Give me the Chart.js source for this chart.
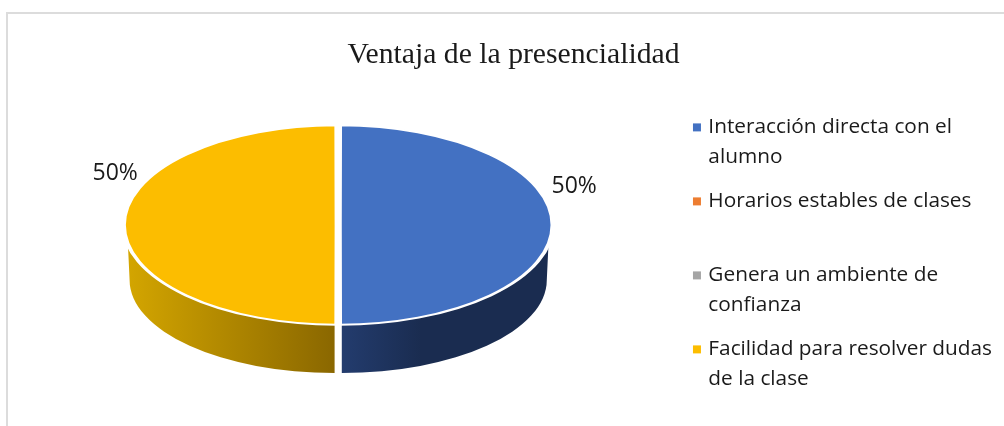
<!DOCTYPE html>
<html lang="es">
<head>
<meta charset="utf-8">
<title>Ventaja de la presencialidad</title>
<script src="https://cdn.jsdelivr.net/npm/chart.js@4"></script>
<style>
html,body{margin:0;padding:0;background:#fff;overflow:hidden}
#wrap{position:relative;width:1004px;height:426px}
#frame{position:absolute;left:6px;top:12px;right:0;bottom:0;border-left:2px solid #dcdcdc;border-top:2px solid #dcdcdc}
canvas{position:absolute;left:0;top:0}
</style>
</head>
<body>
<div id="wrap"><div id="frame"></div><canvas id="c" width="1004" height="426"></canvas></div>
<script>
const chartTitle = 'Ventaja de la presencialidad';
const categories = [
  ['Interacción directa con el', 'alumno'],
  ['Horarios estables de clases', ''],
  ['Genera un ambiente de', 'confianza'],
  ['Facilidad para resolver dudas', 'de la clase']
];
const values = [50, 0, 0, 50];
const colors = ['#4371C2', '#ED7D31', '#A5A5A5', '#FCBD00'];

// Projection of the flat pie onto the tilted top face and its rim
const FACE = {cx: 338.2, cy: 225, rx: 211.3, ry: 99};
const RIM_TOP = {rx: 209, ry: 98.5};
const BASE = {cy: 280, rx: 205, ry: 93};
const RIM_GAP = 3.6;
const SIDE_START = 0.14;
const RIM = [
  {a0: SIDE_START, a1: Math.PI / 2, stops: [[0, '#233C6E'], [0.38, '#1A2C50'], [1, '#1A2C50']]},
  null, null,
  {a0: Math.PI / 2, a1: Math.PI - SIDE_START, stops: [[0, '#D4A600'], [1, '#8A6700']]}
];
const LABEL_POS = [{dx: 236, dy: -40}, null, null, {dx: -223, dy: -53}];

function mapping(chart) {
  const arc = chart.getDatasetMeta(0).data[0];
  const p = arc.getProps(['x', 'y', 'outerRadius'], true);
  return {x: p.x, y: p.y, sx: FACE.rx / p.outerRadius, sy: FACE.ry / p.outerRadius};
}

const pie3d = {
  id: 'pie3d',
  beforeDatasetsDraw(chart) {
    const ctx = chart.ctx, m = mapping(chart);
    chart.getDatasetMeta(0).data.forEach((arc, i) => {
      const rim = RIM[i];
      if (!rim || !values[i]) return;
      const p = arc.getProps(['startAngle', 'endAngle'], true);
      const right = Math.cos((p.startAngle + p.endAngle) / 2) > 0;
      const cx = FACE.cx + (right ? RIM_GAP : -RIM_GAP);
      const x0 = right ? cx : cx - RIM_TOP.rx, x1 = right ? cx + RIM_TOP.rx : cx;
      const g = ctx.createLinearGradient(x0, 0, x1, 0);
      rim.stops.forEach(s => g.addColorStop(s[0], s[1]));
      ctx.save();
      ctx.fillStyle = g;
      ctx.beginPath();
      ctx.ellipse(cx, FACE.cy, RIM_TOP.rx, RIM_TOP.ry, 0, rim.a0, rim.a1);
      if (right) {
        ctx.ellipse(cx, BASE.cy, BASE.rx, BASE.ry, 0, rim.a1, 0, true);
      } else {
        ctx.ellipse(cx, BASE.cy, BASE.rx, BASE.ry, 0, Math.PI, rim.a0, true);
      }
      ctx.closePath();
      ctx.fill();
      ctx.restore();
    });
    ctx.save();
    ctx.translate(FACE.cx, FACE.cy);
    ctx.scale(m.sx, m.sy);
    ctx.translate(-m.x, -m.y);
  },
  afterDatasetsDraw(chart) {
    const ctx = chart.ctx;
    ctx.restore();
    ctx.save();
    ctx.font = '23px "Open Sans"';
    ctx.fillStyle = '#1a1a1a';
    ctx.textAlign = 'center';
    ctx.textBaseline = 'middle';
    const total = values.reduce((a, b) => a + b, 0);
    values.forEach((v, i) => {
      if (!v || !LABEL_POS[i]) return;
      ctx.fillText(Math.round(v / total * 100) + '%', FACE.cx + LABEL_POS[i].dx, FACE.cy + LABEL_POS[i].dy + 1);
    });
    ctx.restore();
  }
};

new Chart(document.getElementById('c'), {
  type: 'pie',
  data: {
    labels: categories,
    datasets: [{
      data: values,
      backgroundColor: colors,
      borderColor: '#FFFFFF',
      borderWidth: 3,
      offset: 4.5
    }]
  },
  plugins: [pie3d],
  options: {
    responsive: false,
    animation: false,
    layout: {padding: {left: 25, right: 2, top: 0, bottom: 13}},
    plugins: {
      tooltip: {enabled: false},
      title: {
        display: true,
        text: chartTitle,
        color: '#1a1a1a',
        font: {family: '"Liberation Serif"', size: 29.7, weight: 'normal', lineHeight: 1.2},
        padding: {top: 37, bottom: 23}
      },
      legend: {
        position: 'right',
        align: 'end',
        labels: {
          boxWidth: 2,
          boxHeight: 2,
          padding: 15,
          color: '#1a1a1a',
          font: {family: '"Open Sans"', size: 20.8, lineHeight: '29.5px'},
          generateLabels(chart) {
            return Chart.overrides.pie.plugins.legend.labels.generateLabels(chart).map(item => {
              item.strokeStyle = item.fillStyle;
              item.lineWidth = 6;
              return item;
            });
          }
        }
      }
    }
  }
});
</script>
</body>
</html>
